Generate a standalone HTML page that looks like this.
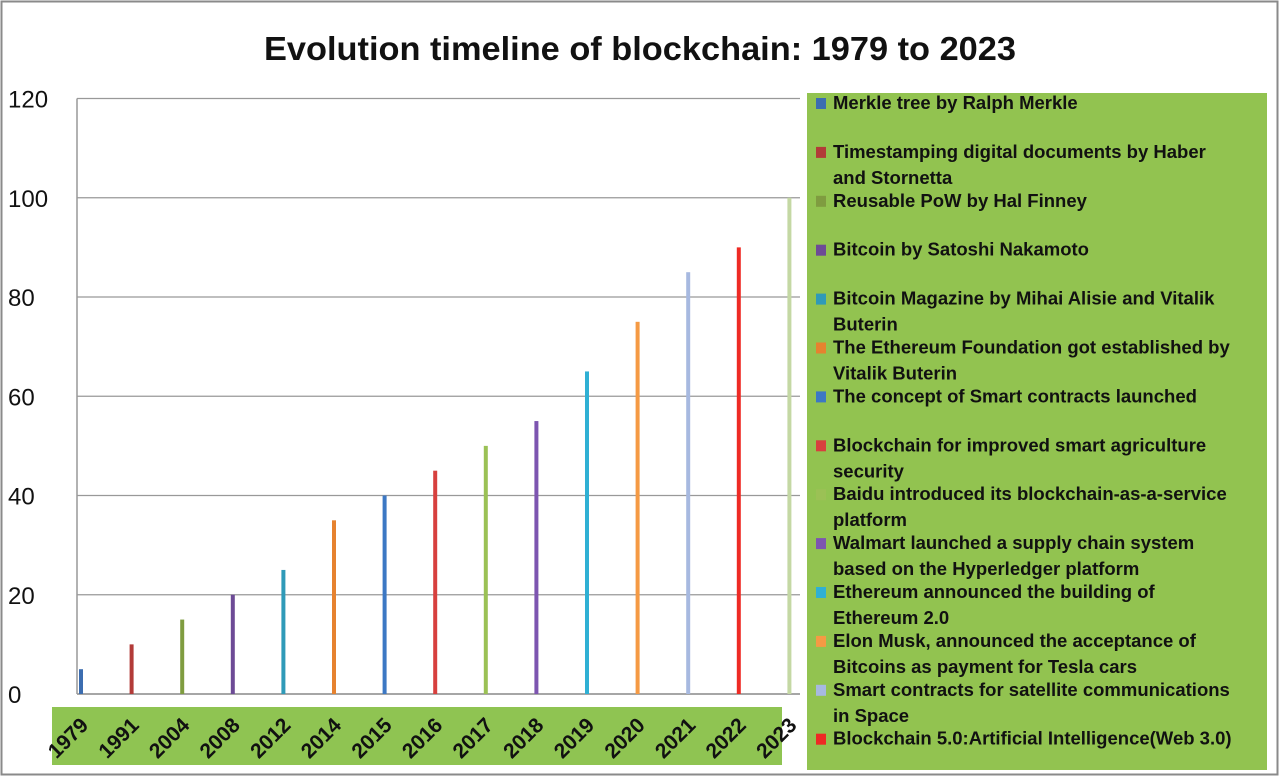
<!DOCTYPE html>
<html><head><meta charset="utf-8"><style>
html,body{margin:0;padding:0;background:#fff;}
svg{display:block;font-family:"Liberation Sans",sans-serif;}
</style></head><body>
<svg id="chart" width="1280" height="777" viewBox="0 0 1280 777">
<rect x="1.5" y="1.5" width="1276" height="773" fill="#fff" stroke="#8a8a8a" stroke-width="2"/>
<text x="640" y="60" text-anchor="middle" font-size="33" font-weight="bold" fill="#111" textLength="752" lengthAdjust="spacingAndGlyphs">Evolution timeline of blockchain: 1979 to 2023</text>
<g id="grid"></g>
<rect x="52" y="707" width="730" height="58" fill="#8fc452"/>
<g id="xlabels"></g>
<g id="bars"></g>
<rect x="807" y="93" width="460" height="677" fill="#92c350"/>
<g id="legend"></g>
</svg>
<script>
const categories = ["1979","1991","2004","2008","2012","2014","2015","2016","2017","2018","2019","2020","2021","2022","2023"];
const values = [5,10,15,20,25,35,40,45,50,55,65,75,85,90,100];
const colors = ["#3c6db0","#b23b38","#7f9c40","#6d4b96","#2f9ab8","#e6822f","#3c78c4","#d7403e","#9bc155","#7d55b0","#2fb0d4","#f59a44","#a7b9e0","#ee2a24","#c4d8a4"];
const legendLabels = [
 ["Merkle tree by Ralph Merkle"],
 ["Timestamping digital documents by Haber","and Stornetta"],
 ["Reusable PoW by Hal Finney"],
 ["Bitcoin by Satoshi Nakamoto"],
 ["Bitcoin Magazine by Mihai Alisie and Vitalik","Buterin"],
 ["The Ethereum Foundation got established by","Vitalik Buterin"],
 ["The concept of Smart contracts launched"],
 ["Blockchain for improved smart agriculture","security"],
 ["Baidu introduced its blockchain-as-a-service","platform"],
 ["Walmart launched a supply chain system","based on the Hyperledger platform"],
 ["Ethereum announced the building of","Ethereum 2.0"],
 ["Elon Musk, announced the acceptance of","Bitcoins as payment for Tesla cars"],
 ["Smart contracts for satellite communications","in Space"],
 ["Blockchain 5.0:Artificial Intelligence(Web 3.0)"]
];
const yTicks = [0,20,40,60,80,100,120];
const NS="http://www.w3.org/2000/svg";
const x0=77, x1=800, yBase=694, yTop=98.5, yMax=120, catW=50.6;
const y = v => yBase - (v/yMax)*(yBase-yTop);
const xc = i => x0 + 2 + i*catW;
function mk(tag, attrs, parent){const e=document.createElementNS(NS,tag);for(const k in attrs)e.setAttribute(k,attrs[k]);parent.appendChild(e);return e;}
const grid=document.getElementById('grid');
yTicks.forEach(t=>{
  const l=mk('line',{x1:x0,x2:x1,y1:y(t),y2:y(t),stroke:t===0?'#888':'#999','stroke-width':t===0?1.5:1.3},grid);
  
  
  const tx=mk('text',{x:8,y:y(t)+9,'font-size':24,fill:'#111'},grid);
  tx.textContent=t;
  
  
});
const ax=mk('line',{x1:x0,x2:x0,y1:yTop,y2:yBase,stroke:'#999','stroke-width':1.5},grid);


const bars=document.getElementById('bars');
values.forEach((v,i)=>{
  const r=mk('rect',{x:xc(i),y:y(v),width:4,height:yBase-y(v),fill:colors[i]},bars);
  
  
});
const xl=document.getElementById('xlabels');
categories.forEach((c,i)=>{
  const cx=xc(i)-6, cy=743;
  const t=mk('text',{x:cx,y:cy,'font-size':21,'font-weight':'bold',fill:'#111','text-anchor':'middle',transform:`rotate(-45 ${cx} ${cy})`},xl);
  t.textContent=c;
  
  
});
const lg=document.getElementById('legend');
legendLabels.forEach((lines,i)=>{
  const cy=103+i*48.9;
  const g=mk('g',{},lg);
  
  
  mk('rect',{x:816,y:cy-5,width:10,height:11,fill:colors[i]},g);
  lines.forEach((ln,j)=>{
    const t=mk('text',{x:833,y:cy+6+j*26,'font-size':18.5,'font-weight':'bold',fill:'#111'},g);
    t.textContent=ln;
  });
});
</script>
</body></html>
